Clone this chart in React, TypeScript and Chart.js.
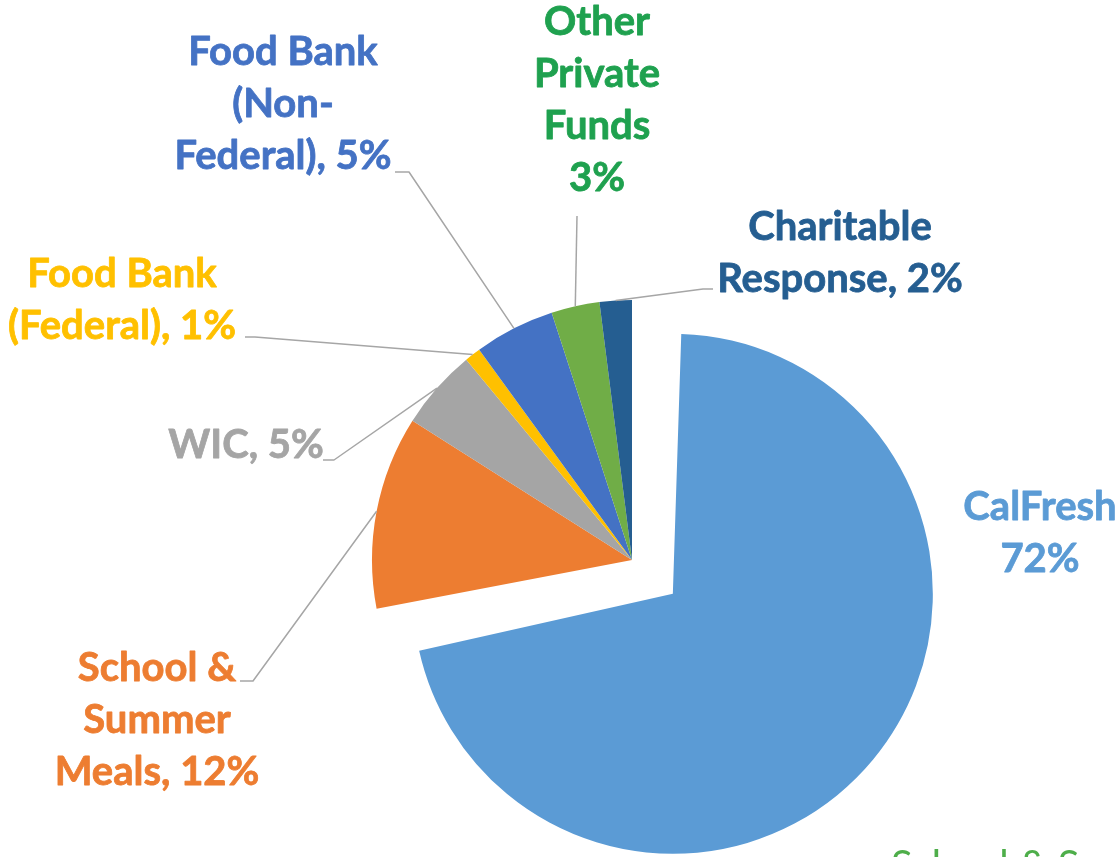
import React, { useEffect, useRef } from "react";
import { Chart, registerables } from "chart.js";

Chart.register(...registerables);

// ---- data ----
const categories = [
  "CalFresh",
  "School & Summer Meals",
  "WIC",
  "Food Bank (Federal)",
  "Food Bank (Non-Federal)",
  "Other Private Funds",
  "Charitable Response",
];
const shares = [72, 12, 5, 1, 5, 3, 2];
const labelLines = [
  ["CalFresh", "72%"],
  ["School &", "Summer", "Meals, 12%"],
  ["WIC, 5%"],
  ["Food Bank", "(Federal), 1%"],
  ["Food Bank", "(Non-", "Federal), 5%"],
  ["Other", "Private", "Funds", "3%"],
  ["Charitable", "Response, 2%"],
];
const strayText = "School & Summer";

// ---- style / layout ----
const sliceColors = ["#5B9BD5", "#ED7D31", "#A5A5A5", "#FFC000", "#4472C4", "#70AD47", "#255E91"];
const labelColors = ["#5B9BD5", "#ED7D31", "#A5A5A5", "#FFC000", "#4472C4", "#1FA14F", "#255E91"];
const explode = [53, 0, 0, 0, 0, 0, 0]; // desired pixel shift of each slice
const FONT = "bold 40px Lato";
const LINE_H = 52;
const LABEL_LAYOUT: { cx: number; base: number; leader: number[][] | null }[] = [
  { cx: 1040, base: 520, leader: null },
  { cx: 157, base: 681, leader: [[240, 681], [253, 681]] },
  { cx: 246, base: 458, leader: [[323, 460], [334, 460]] },
  { cx: 122, base: 287, leader: [[245, 337], [255, 337]] },
  { cx: 283, base: 65, leader: [[395, 172], [409, 172]] },
  { cx: 597, base: 35, leader: [[577, 216]] },
  { cx: 840, base: 240, leader: [[713, 289], [703, 289]] },
];

// Chart.js draws an offset arc shifted by offset/4 and grows its radius by
// offset/4 * fix; keep the exploded slice at the same radius as the others.
const explodeFix = {
  id: "explodeFix",
  afterDatasetUpdate(_chart: any, args: any) {
    args.meta.data.forEach((el: any, i: number) => {
      const shift = explode[i];
      if (!shift) return;
      const fix = 1 - Math.sin(Math.min(Math.PI, el.circumference || 0));
      el.outerRadius = el.outerRadius - shift * fix;
    });
  },
};

const labelPlugin = {
  id: "sliceLabels",
  afterDatasetsDraw(chart: any) {
    const ctx = chart.ctx as CanvasRenderingContext2D;
    const meta = chart.getDatasetMeta(0);
    ctx.save();
    meta.data.forEach((arc: any, i: number) => {
      const lay = LABEL_LAYOUT[i];
      if (!lay) return;
      const p = arc.getProps(["x", "y", "startAngle", "endAngle", "outerRadius"], true);
      const mid = (p.startAngle + p.endAngle) / 2;
      if (lay.leader) {
        const ax = p.x + p.outerRadius * Math.cos(mid);
        const ay = p.y + p.outerRadius * Math.sin(mid);
        ctx.strokeStyle = "#A6A6A6";
        ctx.lineWidth = 1.5;
        ctx.beginPath();
        lay.leader.forEach((pt, k) => (k === 0 ? ctx.moveTo(pt[0], pt[1]) : ctx.lineTo(pt[0], pt[1])));
        ctx.lineTo(ax, ay);
        ctx.stroke();
      }
      ctx.fillStyle = labelColors[i];
      ctx.strokeStyle = labelColors[i];
      ctx.lineWidth = 0.8;
      ctx.lineJoin = "round";
      ctx.font = FONT;
      ctx.textAlign = "center";
      ctx.textBaseline = "alphabetic";
      labelLines[i].forEach((line, k) => {
        ctx.fillText(line, lay.cx, lay.base + k * LINE_H);
        ctx.strokeText(line, lay.cx, lay.base + k * LINE_H);
      });
    });
    ctx.fillStyle = "#4EAE4A";
    ctx.font = "40px Lato";
    ctx.textAlign = "left";
    ctx.fillText(strayText, 891, 879);
    ctx.restore();
  },
};

export default function App() {
  const ref = useRef<HTMLCanvasElement>(null);
  useEffect(() => {
    if (!ref.current) return;
    const chart = new Chart(ref.current, {
      type: "pie",
      data: {
        labels: categories,
        datasets: [
          {
            data: shares,
            backgroundColor: sliceColors,
            borderWidth: 0,
            offset: explode.map((v) => v * 4),
            hoverOffset: 0,
            radius: 260,
          } as any,
        ],
      },
      options: {
        animation: false,
        responsive: false,
        rotation: 0,
        events: [],
        layout: { padding: { left: 146, top: 263, right: 0, bottom: 0 } },
        plugins: { legend: { display: false }, tooltip: { enabled: false } },
      } as any,
      plugins: [explodeFix, labelPlugin],
    });
    return () => chart.destroy();
  }, []);
  return (
    <div style={{ position: "absolute", left: 0, top: 0, width: 1118, height: 857, background: "#fff" }}>
      <canvas ref={ref} width={1118} height={857} style={{ display: "block" }} />
    </div>
  );
}
